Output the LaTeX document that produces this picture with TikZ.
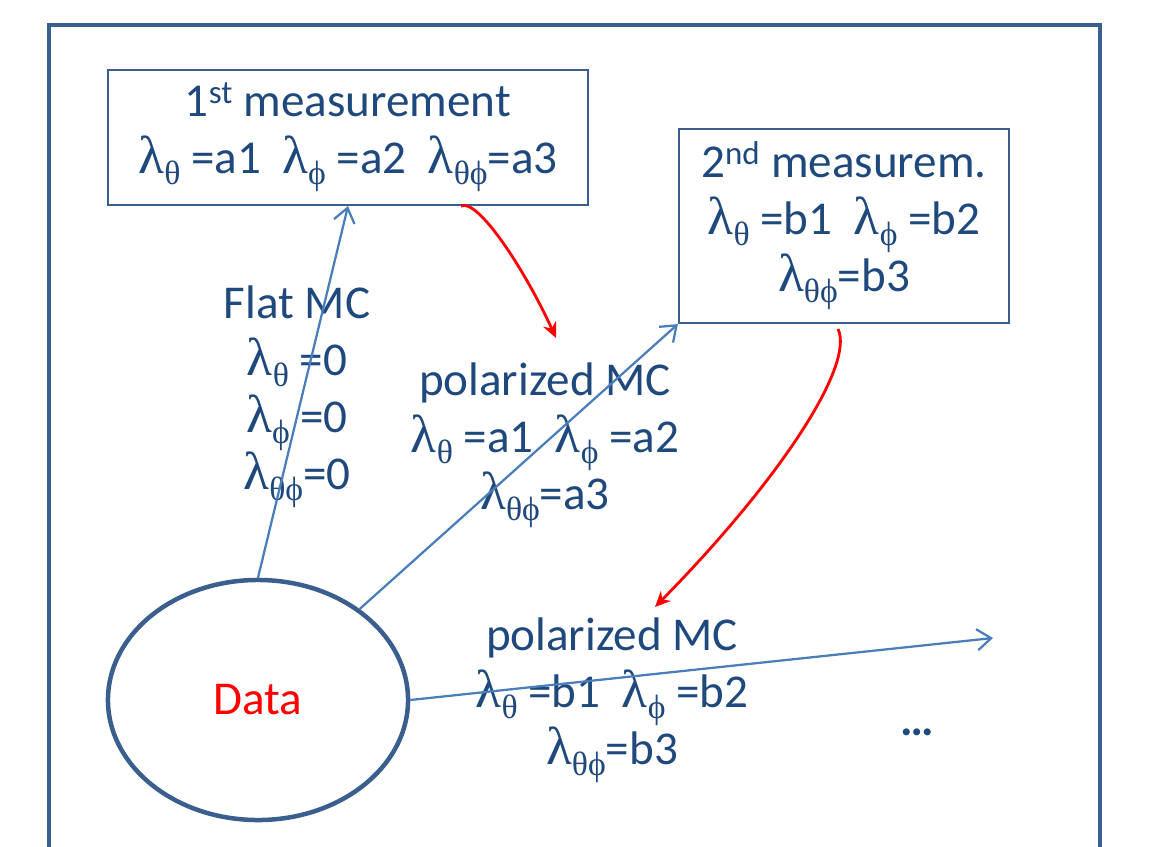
\documentclass[tikz,border=0pt]{standalone}
\usepackage{fontspec}
\setmainfont{Carlito}
\newfontfamily\gr{Liberation Serif}
\usetikzlibrary{arrows.meta,shapes.geometric}
\definecolor{txt}{HTML}{1F497D}
\definecolor{frame}{HTML}{3A5F8F}
\definecolor{arr}{HTML}{4A7EBB}
\newcommand\lm[1]{{\gr\fontsize{38}{38}\selectfont λ}\raisebox{-8pt}{\gr\fontsize{24}{24}\selectfont #1}}
\begin{document}
\begin{tikzpicture}[x=0.025cm,y=-0.025cm,
  every node/.style={font=\fontsize{33.5}{40.5}\selectfont, text=txt, align=center},
  boxnode/.style={draw=frame, line width=1.5pt, inner sep=0pt},
  arrowb/.style={draw=arr, line width=1.6pt, -{Straight Barb[length=10pt,width=15pt]}},
  arrowr/.style={draw=red, line width=2pt, -{Stealth[length=11pt,width=10pt]}}]
\useasboundingbox (0,0) rectangle (1156,847);
\draw[frame, line width=3pt] (49,860) -- (49,25) -- (1100,25) -- (1100,860);
\node[boxnode, minimum width=12cm, minimum height=3.375cm] (m1) at (348,137.5)
  {1\textsuperscript{st} measurement\\ \lm{θ} =a1\ \ \lm{ϕ} =a2\ \ \lm{θϕ}=a3};
\node[boxnode, minimum width=8.25cm, minimum height=4.85cm] (m2) at (844,226)
  {2\textsuperscript{nd} measurem.\\ \lm{θ} =b1\ \ \lm{ϕ} =b2\\ \lm{θϕ}=b3};
\node[draw=frame, ellipse, line width=3.2pt, inner sep=0pt, minimum width=7.5cm, minimum height=6cm, text=red] (data) at (258,700) {Data};
\node (flat) at (297,397) {Flat MC\\ \lm{θ} =0\\ \lm{ϕ} =0\\ \lm{θϕ}=0};
\node (pol1) at (545,445) {polarized MC\\ \lm{θ} =a1\ \ \lm{ϕ} =a2\\ \lm{θϕ}=a3};
\node (pol2) at (612,700) {polarized MC\\ \lm{θ} =b1\ \ \lm{ϕ} =b2\\ \lm{θϕ}=b3};
\node[font=\fontsize{33.5}{40.5}\selectfont\bfseries] (dots) at (917,732) {…};
\coordinate (e3) at (993,638);
\draw[arrowb] (data.north) -- (m1.south);
\draw[arrowb] (data) -- (m2.south west);
\draw[arrowb] (data.east) -- (e3);
\coordinate (r1a) at (461,206);
\coordinate (r1b) at (556,338);
\coordinate (r2a) at (838,329);
\coordinate (r2b) at (655,607);
\draw[arrowr] (r1a) .. controls (478,198) and (525,270) .. (r1b);
\draw[arrowr] (r2a) .. controls (855,365) and (780,480) .. (r2b);
\end{tikzpicture}
\end{document}
